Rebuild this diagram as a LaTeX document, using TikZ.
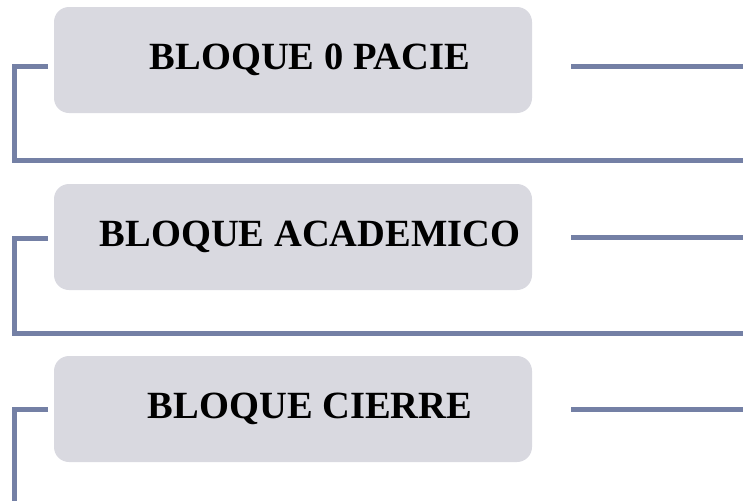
\documentclass[tikz,border=0pt]{standalone}
\usepackage{fontspec}
\setmainfont{Liberation Serif}
\definecolor{linec}{HTML}{7480A5}
\definecolor{boxc}{HTML}{D9D9E0}
\begin{document}
\begin{tikzpicture}[x=1pt,y=-1pt,
  blk/.style={fill=boxc,rounded corners=15pt,minimum width=478pt,minimum height=106pt,inner sep=0pt},
  lbl/.style={inner sep=0pt,font=\fontsize{38.5}{44}\selectfont\bfseries},
  conn/.style={draw=linec,line width=5pt}]
\useasboundingbox (0,0) rectangle (743,501);
\node[blk] (b1) at (293,60) {};
\node[blk] (b2) at (293,237) {};
\node[blk] (b3) at (293,409) {};
\node[lbl] (t1) at ([xshift=17pt]b1.center) {BLOQUE 0 PACIE};
\node[lbl] (t2) at ([xshift=17pt]b2.center) {BLOQUE ACADEMICO};
\node[lbl] (t3) at ([xshift=17pt]b3.center) {BLOQUE CIERRE};
% left brackets
\coordinate (a1) at (48,66);  \coordinate (c1) at (14,66);  \coordinate (d1) at (14,160); \coordinate (e1) at (743,160);
\coordinate (a2) at (48,238); \coordinate (c2) at (14,238); \coordinate (d2) at (14,333); \coordinate (e2) at (743,333);
\coordinate (a3) at (48,409); \coordinate (c3) at (14,409); \coordinate (d3) at (14,501);
% right lines
\coordinate (r1) at (571,66);  \coordinate (s1) at (743,66);
\coordinate (r2) at (571,237); \coordinate (s2) at (743,237);
\coordinate (r3) at (571,409); \coordinate (s3) at (743,409);
\draw[conn] (a1) -- (c1) -- (d1) -- (e1);
\draw[conn] (a2) -- (c2) -- (d2) -- (e2);
\draw[conn] (a3) -- (c3) -- (d3);
\draw[conn] (r1) -- (s1);
\draw[conn] (r2) -- (s2);
\draw[conn] (r3) -- (s3);
\end{tikzpicture}
\end{document}
